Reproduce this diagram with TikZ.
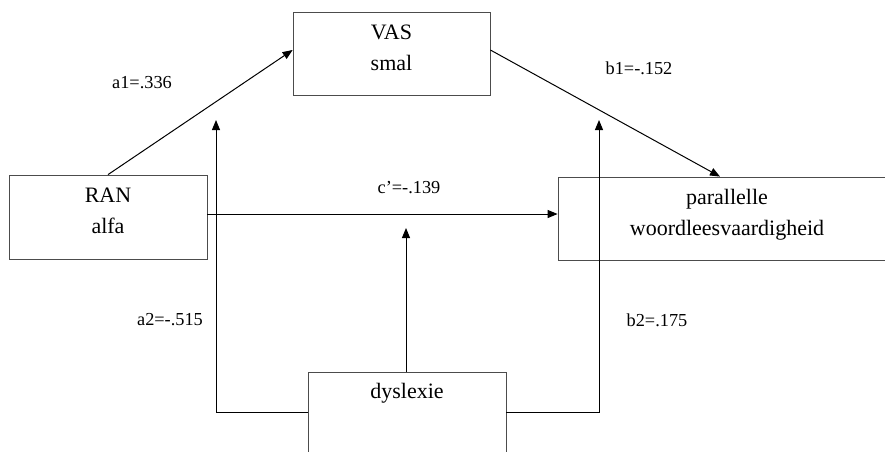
\documentclass[tikz,border=0pt]{standalone}
\usepackage{fontspec}
\setmainfont{Liberation Serif}
\usetikzlibrary{positioning,arrows.meta}

\tikzset{
  varbox/.style={draw=black!70,line width=0.8pt,align=center,font=\fontsize{22}{31}\selectfont},
  path/.style={line width=1pt,-{Triangle[length=10pt,width=8pt]}},
  coef/.style={font=\fontsize{18.3}{22}\selectfont}
}

\begin{document}
\begin{tikzpicture}[x=1pt,y=-1pt]
\useasboundingbox (0,0) rectangle (885,451);
\clip (0,0) rectangle (885,451);

% Variables
\node[varbox,minimum width=197pt,minimum height=83pt,text depth=12pt] (vas) at (391.5,53.5) {VAS\\smal};
\node[varbox,minimum width=198pt,minimum height=84pt,text depth=12pt] (ran) at (108,217) {RAN\\alfa};
\node[varbox,minimum width=338pt,minimum height=83pt,text depth=12pt] (par) at (727,218.5) {parallelle\\woordleesvaardigheid};
\node[varbox,minimum width=198pt,text height=23pt,text depth=70pt,anchor=north] (dys) at (407,372) {dyslexie};

% Moderator targets
\coordinate (modA) at (216,120);
\coordinate (modB) at (599,120);
\coordinate (modC) at (406,228);

% Paths
\draw[path] (ran.north) -- ([yshift=3.5pt]vas.west);
\draw[path] ([yshift=3.5pt]vas.east) -- ([xshift=-7pt]par.north);
\draw[path] ([yshift=3pt]ran.east) -- ([yshift=3pt]ran.east -| par.west);
\draw[path] (dys.north -| modC) -- (modC);
\draw[path] ([yshift=-40pt]dys.north west) -| (modA);
\draw[path] ([yshift=-40pt]dys.north east) -| (modB);

% Coefficients
\node[coef] (a1) at (142,83) {a1=.336};
\node[coef] (b1) at (639,68) {b1=-.152};
\node[coef] (c) at (409,188) {c’=-.139};
\node[coef] (a2) at (170,320) {a2=-.515};
\node[coef] (b2) at (657,320) {b2=.175};
\end{tikzpicture}
\end{document}
